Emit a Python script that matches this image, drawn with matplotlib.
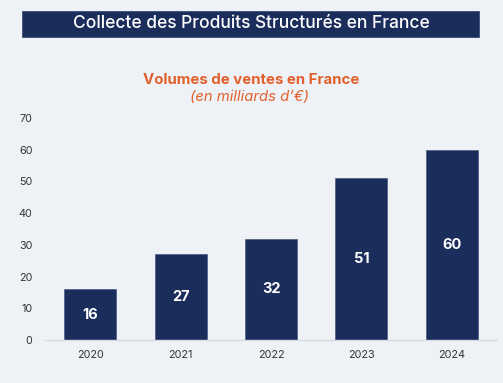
import matplotlib.pyplot as plt
from matplotlib.patches import Rectangle

# data
years = ["2020", "2021", "2022", "2023", "2024"]
volumes = [16, 27, 32, 51, 60]
y_ticks = [0, 10, 20, 30, 40, 50, 60, 70]

navy = "#1B2D5A"
orange = "#E2602C"
bg = "#EEF2F6"

plt.rcParams['font.family'] = ['Inter', 'DejaVu Sans']

fig = plt.figure(figsize=(5.03, 3.83), dpi=100, facecolor=bg)
W, H = 503, 383

# title banner
fig.patches.append(Rectangle((22 / W, 1 - 37 / H), 457 / W, 26 / H,
                             transform=fig.transFigure, facecolor=navy,
                             edgecolor="#3A4C78", lw=0.6))
fig.text(251 / W, 1 - 24 / H, "Collecte des Produits Structurés en France",
         color="white", fontsize=12.5, fontweight="medium", ha="center", va="center")

fig.text(251 / W, 1 - 80 / H, "Volumes de ventes en France", color=orange,
         fontsize=10.8, fontweight="bold", ha="center", va="center")
fig.text(249 / W, 1 - 97 / H, "(en milliards d\u2019\u20ac)", color=orange,
         fontsize=10.7, fontstyle="italic", ha="center", va="center")

ax = fig.add_axes([45 / W, 1 - 340 / H, 452 / W, 222 / H])
ax.set_facecolor(bg)
x = range(len(years))
ax.bar(x, volumes, width=0.575, color=navy, edgecolor="#3A4C78", lw=0.4)
for i, v in zip(x, volumes):
    ax.text(i, v / 2, str(v), color="white", fontsize=10.5, fontweight="bold",
            ha="center", va="center")

ax.set_xlim(-0.5, 4.5)
ax.set_ylim(0, 70)
ax.set_xticks(list(x))
ax.set_xticklabels(years)
ax.set_yticks(y_ticks)
ax.tick_params(length=0, labelsize=7.8, colors="#333333")
ax.tick_params(axis="y", pad=9)
ax.tick_params(axis="x", pad=7)
for s in ["top", "right", "left"]:
    ax.spines[s].set_visible(False)
ax.spines["bottom"].set_color("#D5DAE0")
ax.spines["bottom"].set_linewidth(1)

fig.savefig("out.png", dpi=100, facecolor=bg)
